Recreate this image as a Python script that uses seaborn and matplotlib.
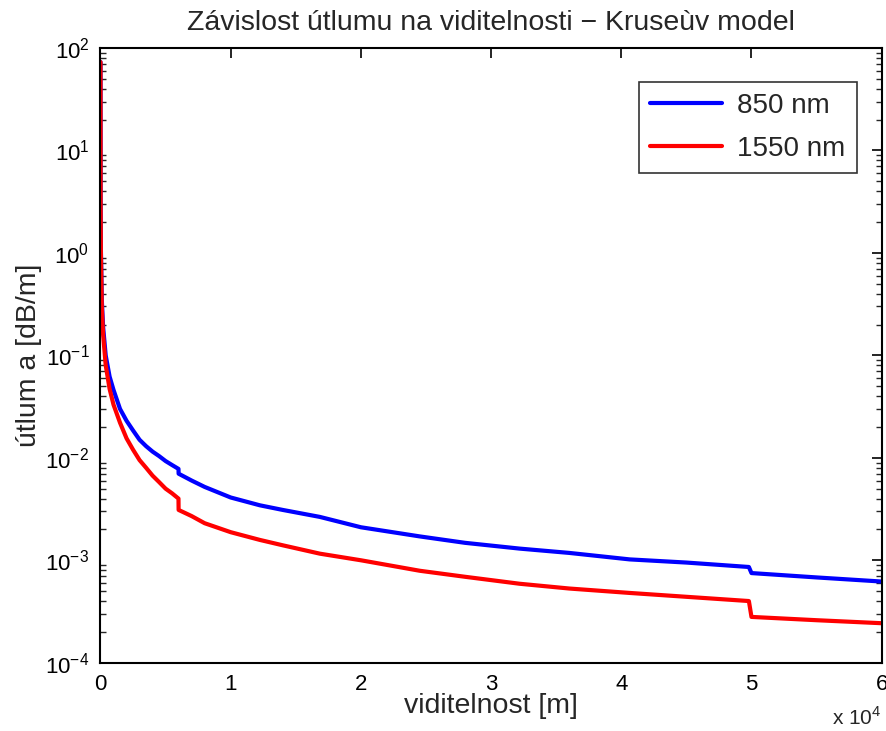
import numpy as np
import pandas as pd
import matplotlib
matplotlib.use("Agg")
import matplotlib.pyplot as plt
import matplotlib.ticker as mticker
import seaborn as sns

# visibility [m]; repeated points mark the jumps of the Kruse model (6 km, 50 km)
visibility = [0, 10, 30, 100, 200, 400, 700, 1000, 1500, 2000, 2500, 3000, 3500, 4000, 4500,
              5000, 5500, 5990, 6000, 7000, 8000, 10000, 12240, 14000, 16850, 20000, 24520,
              28000, 32190, 36000, 40640, 45000, 49800, 50000, 55000, 60000]

# attenuation [dB/m]
att_850 = [73, 3.2, 1.1, 0.35, 0.19, 0.10, 0.062, 0.046, 0.030, 0.023, 0.0185, 0.0150, 0.0130,
           0.0115, 0.0104, 0.0093, 0.0085, 0.0078, 0.0070, 0.0060, 0.0052, 0.0041, 0.00344,
           0.0031, 0.00265, 0.0021, 0.00171, 0.00148, 0.0013, 0.00118, 0.00102, 0.00095,
           0.00086, 0.00075, 0.00068, 0.00062]
att_1550 = [73, 3.0, 1.0, 0.30, 0.16, 0.080, 0.047, 0.033, 0.022, 0.0155, 0.0120, 0.0095, 0.0080,
            0.0067, 0.0058, 0.0050, 0.0045, 0.0040, 0.0031, 0.0027, 0.0023, 0.00188, 0.00158,
            0.00140, 0.00116, 0.00100, 0.00079, 0.00069, 0.00059, 0.00053, 0.00048, 0.00044,
            0.00040, 0.00028, 0.00026, 0.000243]

labels = ["850 nm", "1550 nm"]

df = pd.concat([
    pd.DataFrame({"V": visibility, "a": att_850, "lambda": labels[0]}),
    pd.DataFrame({"V": visibility, "a": att_1550, "lambda": labels[1]}),
])

sns.set_style("white")
plt.rcParams["font.family"] = ["Liberation Sans", "DejaVu Sans"]
plt.rcParams["mathtext.fontset"] = "custom"
plt.rcParams["mathtext.rm"] = "Liberation Sans"

fig = plt.figure(figsize=(8.87, 7.31), dpi=100)
ax = fig.add_axes([0.1133, 0.0934, 0.8807, 0.8409])

sns.lineplot(data=df, x="V", y="a", hue="lambda", palette={"850 nm": "#0000ff", "1550 nm": "#ff0000"},
             estimator=None, sort=False, linewidth=3, ax=ax)

ax.set_yscale("log")
ax.set_xlim(0, 60000)
ax.set_ylim(1e-4, 1e2)

ax.set_xticks(np.arange(0, 60001, 10000))
ax.xaxis.set_major_formatter(mticker.FuncFormatter(lambda v, p: f"{v / 1e4:g}"))
ax.yaxis.set_major_locator(mticker.LogLocator(base=10, numticks=10))
ax.yaxis.set_minor_locator(mticker.LogLocator(base=10, subs=np.arange(2, 10), numticks=100))
ax.yaxis.set_minor_formatter(mticker.NullFormatter())

ax.tick_params(axis="both", which="major", direction="in", length=7, width=1.2,
               top=True, right=True, labelsize=16, colors="black", pad=8)
ax.tick_params(axis="y", which="minor", direction="in", length=4, width=1.0, left=True, right=True)
for s in ax.spines.values():
    s.set_color("black")
    s.set_linewidth(1.5)

ax.set_title("Závislost útlumu na viditelnosti \u2212 Kruseùv model", fontsize=20.5, pad=13)
ax.set_xlabel("viditelnost [m]", fontsize=20.5, labelpad=-1)
ax.set_ylabel("útlum a [dB/m]", fontsize=20.5, labelpad=2)
ax.text(1.0, -0.07, r"x 10$^{4}$", transform=ax.transAxes, ha="right", va="top", fontsize=15)

leg = ax.legend(loc="upper right", bbox_to_anchor=(0.968, 0.9447), borderaxespad=0, fontsize=20,
                frameon=True, fancybox=False, edgecolor="black", handlelength=2.6, handletextpad=0.55,
                borderpad=0.4, labelspacing=0.6)
leg.get_frame().set_linewidth(1.2)
for h in leg.get_lines():
    h.set_linewidth(3)

fig.savefig("out.png", dpi=100)
